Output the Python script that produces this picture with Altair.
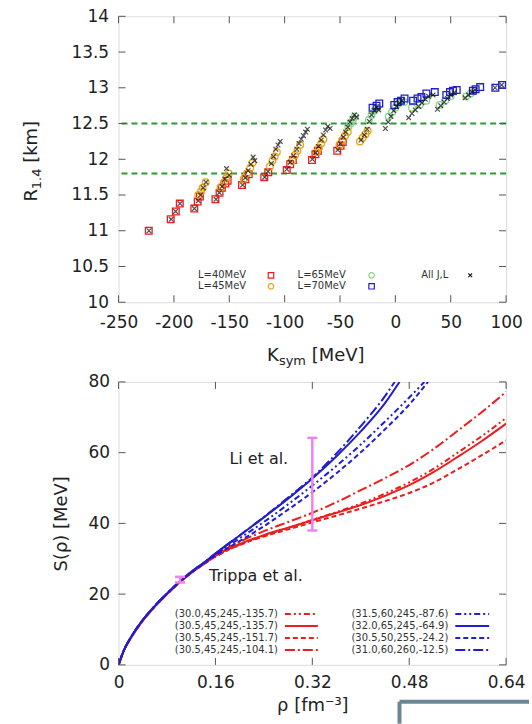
import altair as alt
import pandas as pd

FONT = "DejaVu Sans"
TXT = "#222222"

# ---------------- top panel data : R_1.4 vs K_sym ----------------
L40_K = [-222.7, -202.9, -198.3, -194.7, -181.6, -178.5, -176.5, -162.5, -158.8, -156.7, -153.5, -151.5,
         -138.5, -135.4, -132.5, -118.4, -114.8, -98.1, -95.0, -92.5, -75.3, -72.2, -70.0, -52.5, -49.5, -47.5]
L40_R = [11.00, 11.16, 11.27, 11.38, 11.31, 11.41, 11.48, 11.44, 11.53, 11.60, 11.66, 11.70,
         11.64, 11.72, 11.79, 11.75, 11.82, 11.85, 11.93, 11.99, 11.99, 12.07, 12.12, 12.12, 12.19, 12.24]

L45_K = [-178, -175.5, -174, -171.3, -158, -155, -152.5, -150.5, -137, -134, -131, -129, -113.3, -111, -109, -107,
         -93, -90.5, -88.5, -86, -71, -69, -67, -65, -50.5, -48, -45.5, -43, -32, -29.5, -27, -25]
L45_R = [11.50, 11.55, 11.60, 11.68, 11.60, 11.67, 11.74, 11.80, 11.72, 11.80, 11.88, 11.95, 11.90, 11.98, 12.04, 12.10,
         11.98, 12.06, 12.12, 12.20, 12.10, 12.16, 12.22, 12.28, 12.20, 12.27, 12.33, 12.38, 12.25, 12.30, 12.35, 12.40]

L65_K = [-42.5, -40.5, -38.5, -36.5, -24, -21.5, -19, -16.5, -6, -3, 0, 3, 8, 15, 22, 28, 40, 45, 50, 64, 68]
L65_R = [12.45, 12.50, 12.55, 12.60, 12.55, 12.62, 12.68, 12.72, 12.60, 12.66, 12.72, 12.78, 12.80, 12.72, 12.76,
         12.82, 12.76, 12.82, 12.88, 12.88, 12.92]

L70_K = [-20.6, -17, -14.5, -1, 2, 5, 8.3, 16, 20, 23.5, 28, 35.6, 46, 49.3, 52, 55.4, 70, 72.5, 76.6, 90.3, 96.4]
L70_R = [12.72, 12.75, 12.78, 12.76, 12.80, 12.82, 12.85, 12.82, 12.85, 12.87, 12.92, 12.94, 12.90, 12.94, 12.96,
         12.97, 12.96, 12.98, 13.01, 13.00, 13.04]

ALL_K = [-222.5, -202.5, -198.5, -194.5, -181.5, -178, -176, -173.5, -171, -162, -159, -156.5, -154, -152.5, -150,
         -138, -135.5, -133, -130.5, -128.5, -127, -118, -115, -112, -110, -108, -106, -104,
         -98, -95, -92, -89, -87, -85, -83, -81, -79.5, -75, -72, -69.5, -67, -65, -63, -61, -59,
         -52, -49.5, -47, -45, -43, -41, -39, -37, -35, -31, -28, -25.5, -23.5, -21.5, -19, -17, -15,
         -9, -6.5, -4, -1.5, 1, 3.5, 6, 12, 15, 18, 21, 24, 27, 30, 34, 38, 41, 44, 47, 50, 53,
         63, 66, 69, 72, 90, 96]
ALL_R = [11.00, 11.16, 11.27, 11.38, 11.31, 11.42, 11.50, 11.60, 11.68, 11.44, 11.53, 11.62, 11.72, 11.87, 11.78,
         11.64, 11.74, 11.84, 11.93, 12.03, 11.98, 11.75, 11.83, 11.94, 12.04, 12.14, 12.20, 12.25,
         11.86, 11.96, 12.05, 12.14, 12.22, 12.28, 12.33, 12.38, 12.42, 12.00, 12.09, 12.18, 12.27, 12.34, 12.41, 12.46, 12.43,
         12.13, 12.22, 12.31, 12.38, 12.45, 12.52, 12.57, 12.62, 12.59, 12.27, 12.34, 12.42, 12.53, 12.62, 12.68, 12.73, 12.69,
         12.43, 12.52, 12.60, 12.68, 12.74, 12.79, 12.82, 12.58, 12.64, 12.69, 12.74, 12.79, 12.84, 12.88, 12.90,
         12.70, 12.75, 12.80, 12.85, 12.90, 12.93, 12.86, 12.90, 12.94, 12.97, 13.00, 13.04]

TOP_XTICKS = [-250, -200, -150, -100, -50, 0, 50, 100]
TOP_YTICKS = [10, 10.5, 11, 11.5, 12, 12.5, 13, 13.5, 14]
R_BOUNDS = [11.8, 12.5]

# ---------------- bottom panel data : S(rho) ----------------
RHO_RED = [0, 0.01, 0.02, 0.04, 0.06, 0.08, 0.10, 0.12, 0.14, 0.16, 0.20, 0.24, 0.28, 0.32, 0.36,
           0.40, 0.44, 0.48, 0.52, 0.56, 0.60, 0.64]
S_RED_DDOT = [0, 4.5, 7.5, 12.5, 16.5, 20.0, 23.2, 26.0, 28.4, 30.6, 34.0, 36.5, 38.7, 41.0, 43.2,
              45.6, 48.4, 51.6, 55.4, 60.0, 64.7, 69.8]
S_RED_SOLID = [0, 4.5, 7.5, 12.5, 16.5, 20.0, 23.2, 26.0, 28.5, 30.8, 34.2, 36.7, 38.8, 40.9, 43.0,
               45.2, 47.8, 50.8, 54.5, 58.8, 63.3, 68.2]
S_RED_DASH = [0, 4.5, 7.5, 12.5, 16.5, 20.0, 23.2, 26.0, 28.4, 30.6, 33.9, 36.3, 38.3, 40.3, 42.2,
              44.2, 46.3, 48.6, 51.5, 55.3, 59.3, 63.5]
S_RED_DDASH = [0, 4.5, 7.5, 12.5, 16.5, 20.0, 23.2, 26.0, 28.6, 31.1, 34.8, 37.8, 40.4, 43.0, 46.0,
               49.4, 52.8, 56.5, 61.0, 66.2, 71.5, 77.2]

RHO_B_SOLID = [0, 0.01, 0.02, 0.04, 0.06, 0.08, 0.10, 0.12, 0.14, 0.16, 0.20, 0.24, 0.28, 0.32, 0.36, 0.40, 0.44, 0.464]
S_B_SOLID = [0, 4.6, 7.7, 12.7, 16.7, 20.2, 23.4, 26.3, 28.8, 31.5, 36.6, 41.7, 47.0, 52.7, 59.0, 66.0, 74.0, 80.0]
RHO_B_DDASH = [0, 0.01, 0.02, 0.04, 0.06, 0.08, 0.10, 0.12, 0.14, 0.16, 0.20, 0.24, 0.28, 0.32, 0.36, 0.40, 0.44, 0.456]
S_B_DDASH = [0, 4.6, 7.7, 12.7, 16.7, 20.2, 23.4, 26.3, 28.8, 31.5, 36.6, 41.8, 47.3, 53.0, 59.8, 67.5, 76.0, 80.0]
RHO_B_DDOT = [0, 0.01, 0.02, 0.04, 0.06, 0.08, 0.10, 0.12, 0.14, 0.16, 0.20, 0.24, 0.28, 0.32, 0.36, 0.40, 0.44, 0.48, 0.505]
S_B_DDOT = [0, 4.6, 7.7, 12.7, 16.7, 20.2, 23.4, 26.2, 28.7, 31.2, 35.8, 40.4, 45.4, 50.7, 56.3, 62.3, 68.8, 75.6, 80.0]
RHO_B_DASH = [0, 0.01, 0.02, 0.04, 0.06, 0.08, 0.10, 0.12, 0.14, 0.16, 0.20, 0.24, 0.28, 0.32, 0.36, 0.40, 0.44, 0.48, 0.511]
S_B_DASH = [0, 4.6, 7.7, 12.7, 16.7, 20.2, 23.4, 26.1, 28.6, 30.9, 35.0, 39.2, 43.9, 48.8, 54.2, 60.1, 66.6, 73.6, 80.0]

LEG_RED = ["(30.0,45,245,-135.7)", "(30.5,45,245,-135.7)", "(30.5,45,245,-151.7)", "(30.5,45,245,-104.1)"]
LEG_BLUE = ["(31.5,60,245,-87.6)", "(32.0,65,245,-64.9)", "(30.5,50,255,-24.2)", "(31.0,60,260,-12.5)"]

ERR_RHO = [0.1015, 0.32]
ERR_LO = [23.3, 38.0]
ERR_HI = [24.9, 64.2]

NOTE_RHO = [0.2316, 0.2268]
NOTE_S = [58.3, 25.1]
NOTE_TXT = ["Li et al.", "Trippa et al."]

BOT_XTICKS = [0, 0.16, 0.32, 0.48, 0.64]
BOT_YTICKS = [0, 20, 40, 60, 80]

# ---------------- layout constants ----------------
W = 389
H1 = 287
H2 = 284
TICK = 7
RED = "#ee1c1c"
ORANGE = "#e8a317"
GREEN = "#86d686"
BLUE = "#1f1fd0"
VIOLET = "#ee82ee"
XPATH = "M-1,-1L1,1M-1,1L1,-1"
DASH = [5, 3]
DDASH = [10, 3, 2, 3]
DDOT = [6, 3, 2, 3, 2, 3]

ONE = pd.DataFrame({"_": [0]})


def txt(s, x, y, size, align="left", baseline="alphabetic", angle=None, color=TXT):
    kw = dict(align=align, baseline=baseline, fontSize=size, color=color, font=FONT)
    if angle is not None:
        kw["angle"] = angle
    return alt.Chart(ONE).mark_text(**kw).encode(x=alt.value(x), y=alt.value(y), text=alt.value(s))


def sym(shape, color, x, y, size=30, sw=1.2):
    return alt.Chart(ONE).mark_point(shape=shape, color=color, filled=False, size=size, strokeWidth=sw,
                                     opacity=1).encode(x=alt.value(x), y=alt.value(y))


def seg(color, x1, x2, y, dash=None, width=2):
    kw = dict(color=color, strokeWidth=width)
    if dash:
        kw["strokeDash"] = dash
    return alt.Chart(ONE).mark_rule(**kw).encode(x=alt.value(x1), x2=alt.value(x2), y=alt.value(y))


def vseg(color, x, y1, y2, width=2):
    return alt.Chart(ONE).mark_rule(color=color, strokeWidth=width).encode(
        x=alt.value(x), y=alt.value(y1), y2=alt.value(y2))


# ================= TOP PANEL =================
xs_t = alt.Scale(domain=[-250, 100], nice=False, zero=False)
ys_t = alt.Scale(domain=[10, 14], nice=False, zero=False)
ax_t = alt.Axis(values=TOP_XTICKS, ticks=False, domain=False, grid=False, title=None, labelFontSize=17,
                labelFont=FONT, labelColor=TXT, labelPadding=12, labelExpr="'' + datum.value",
                labelOverlap=False, labelFlush=False)
ay_t = alt.Axis(values=TOP_YTICKS, ticks=False, domain=False, grid=False, title=None, labelFontSize=17,
                labelFont=FONT, labelColor=TXT, labelPadding=10, labelExpr="'' + datum.value",
                labelOverlap=False, labelFlush=False)
XT = alt.X("K:Q", scale=xs_t, axis=ax_t)
YT = alt.Y("R:Q", scale=ys_t, axis=ay_t)


def scat(ks, rs, shape, color, size, sw=1.3, opacity=1.0):
    d = pd.DataFrame({"K": ks, "R": rs})
    return alt.Chart(d).mark_point(shape=shape, color=color, filled=False, size=size, strokeWidth=sw,
                                   opacity=opacity).encode(x=XT, y=YT)


bounds = alt.Chart(pd.DataFrame({"R": R_BOUNDS})).mark_rule(
    color="#2e9a35", strokeDash=[6, 4], strokeWidth=2).encode(y=YT)

tx = pd.DataFrame({"K": TOP_XTICKS})
ty = pd.DataFrame({"R": TOP_YTICKS})
tcol = "#555555"
ticks_top = [
    alt.Chart(tx).mark_rule(color=tcol).encode(x=XT, y=alt.value(H1), y2=alt.value(H1 - TICK)),
    alt.Chart(tx).mark_rule(color=tcol).encode(x=XT, y=alt.value(0), y2=alt.value(TICK)),
    alt.Chart(ty).mark_rule(color=tcol).encode(y=YT, x=alt.value(0), x2=alt.value(TICK)),
    alt.Chart(ty).mark_rule(color=tcol).encode(y=YT, x=alt.value(W - TICK), x2=alt.value(W)),
]

legend_top = [
    txt("L=40MeV", 128, 260, 10, align="right", baseline="middle", color="#333"),
    sym("square", RED, 153, 260),
    txt("L=45MeV", 128, 271, 10, align="right", baseline="middle", color="#333"),
    sym("circle", ORANGE, 153, 271),
    txt("L=65MeV", 228, 260, 10, align="right", baseline="middle", color="#333"),
    sym("circle", GREEN, 254, 260),
    txt("L=70MeV", 228, 271, 10, align="right", baseline="middle", color="#333"),
    sym("square", BLUE, 254, 271),
    txt("All J,L", 331, 260, 10, align="right", baseline="middle", color="#333"),
    sym(XPATH, "#222", 353, 260, size=14),
]

# axis titles with sub-scripts
titles_top = [
    txt("K", 149, 346, 18),
    txt("sym", 161, 350, 13),
    txt("[MeV]", 194, 346, 18),
    txt("R", -82, 186, 18, angle=270),
    txt("1.4", -78, 173.5, 13, angle=270),
    txt("[km]", -82, 147, 18, angle=270),
]

top = alt.layer(
    bounds,
    scat(L40_K, L40_R, "square", RED, 45),
    scat(L45_K, L45_R, "circle", ORANGE, 45),
    scat(L65_K, L65_R, "circle", GREEN, 45),
    scat(L70_K, L70_R, "square", BLUE, 45),
    scat(ALL_K, ALL_R, XPATH, "#111111", 22, sw=1.2, opacity=0.75),
    *ticks_top, *legend_top, *titles_top,
).properties(width=W, height=H1)

# ================= BOTTOM PANEL =================
xs_b = alt.Scale(domain=[0, 0.64], nice=False, zero=False)
ys_b = alt.Scale(domain=[0, 80], nice=False, zero=False)
ax_b = alt.Axis(values=BOT_XTICKS, ticks=False, domain=False, grid=False, title="ρ [fm⁻³]", labelFontSize=17,
                labelFont=FONT, labelColor=TXT, labelPadding=10, labelExpr="'' + datum.value",
                labelOverlap=False, labelFlush=False,
                titleFont=FONT, titleFontSize=18, titleFontWeight="normal", titleColor=TXT, titlePadding=6)
ay_b = alt.Axis(values=BOT_YTICKS, ticks=False, domain=False, grid=False, title="S(ρ) [MeV]", labelFontSize=17,
                labelFont=FONT, labelColor=TXT, labelPadding=9, labelExpr="'' + datum.value",
                labelOverlap=False, labelFlush=False,
                titleFont=FONT, titleFontSize=18, titleFontWeight="normal", titleColor=TXT, titlePadding=18)
XB = alt.X("rho:Q", scale=xs_b, axis=ax_b)
YB = alt.Y("S:Q", scale=ys_b, axis=ay_b)


def curve(rho, s, color, dash=None):
    d = pd.DataFrame({"rho": rho, "S": s})
    kw = dict(color=color, strokeWidth=2, clip=True, interpolate="monotone")
    if dash:
        kw["strokeDash"] = dash
    return alt.Chart(d).mark_line(**kw).encode(x=XB, y=YB)


curves = [
    curve(RHO_RED, S_RED_DASH, RED, DASH),
    curve(RHO_RED, S_RED_DDOT, RED, DDOT),
    curve(RHO_RED, S_RED_SOLID, RED),
    curve(RHO_RED, S_RED_DDASH, RED, DDASH),
    curve(RHO_B_DASH, S_B_DASH, BLUE, DASH),
    curve(RHO_B_DDOT, S_B_DDOT, BLUE, DDOT),
    curve(RHO_B_SOLID, S_B_SOLID, BLUE),
    curve(RHO_B_DDASH, S_B_DDASH, BLUE, DDASH),
]

err = pd.DataFrame({"rho": ERR_RHO, "S": ERR_LO, "S2": ERR_HI})
err_lo = pd.DataFrame({"rho": ERR_RHO, "S": ERR_LO})
err_hi = pd.DataFrame({"rho": ERR_RHO, "S": ERR_HI})
errbars = [
    alt.Chart(err).mark_rule(color=VIOLET, strokeWidth=2.5).encode(x=XB, y=YB, y2=alt.Y2("S2:Q")),
    alt.Chart(err_lo).mark_point(shape="stroke", color=VIOLET, size=100, strokeWidth=2.5, opacity=1).encode(x=XB, y=YB),
    alt.Chart(err_hi).mark_point(shape="stroke", color=VIOLET, size=100, strokeWidth=2.5, opacity=1).encode(x=XB, y=YB),
]

notes = alt.Chart(pd.DataFrame({"rho": NOTE_RHO, "S": NOTE_S, "t": NOTE_TXT})).mark_text(
    fontSize=16, font=FONT, color=TXT, align="center", baseline="middle").encode(x=XB, y=YB, text="t:N")

bx = pd.DataFrame({"rho": BOT_XTICKS})
by = pd.DataFrame({"S": BOT_YTICKS})
ticks_bot = [
    alt.Chart(bx).mark_rule(color=tcol).encode(x=XB, y=alt.value(H2), y2=alt.value(H2 - TICK)),
    alt.Chart(bx).mark_rule(color=tcol).encode(x=XB, y=alt.value(0), y2=alt.value(TICK)),
    alt.Chart(by).mark_rule(color=tcol).encode(y=YB, x=alt.value(0), x2=alt.value(TICK)),
    alt.Chart(by).mark_rule(color=tcol).encode(y=YB, x=alt.value(W - TICK), x2=alt.value(W)),
]

styles = [DDOT, None, DASH, DDASH]
legend_bot = []
rows = [233, 245, 257, 269]
for lab, st, yy in zip(LEG_RED, styles, rows):
    legend_bot.append(txt(lab, 160, yy, 10, align="right", baseline="middle", color="#333"))
    legend_bot.append(seg(RED, 167, 200, yy, st))
for lab, st, yy in zip(LEG_BLUE, styles, rows):
    legend_bot.append(txt(lab, 331, yy, 10, align="right", baseline="middle", color="#333"))
    legend_bot.append(seg(BLUE, 338, 372, yy, st))

# partially visible framed box at the bottom-right edge of the picture
BOXC = "#6c8794"
box = [
    seg(BOXC, 282, 412, 321, width=4),
    vseg(BOXC, 282, 321, 343, width=4),
]

bottom = alt.layer(
    *curves, *errbars, notes, *ticks_bot, *legend_bot, *box
).properties(width=W, height=H2)

chart = alt.vconcat(top, bottom, spacing=3).properties(
    padding={"left": 22, "top": 5, "right": 0, "bottom": 0}
).configure_view(stroke="#666666", strokeWidth=1).configure(background="white")

chart.save("out.html", embed_options={"renderer": "svg", "actions": False})
